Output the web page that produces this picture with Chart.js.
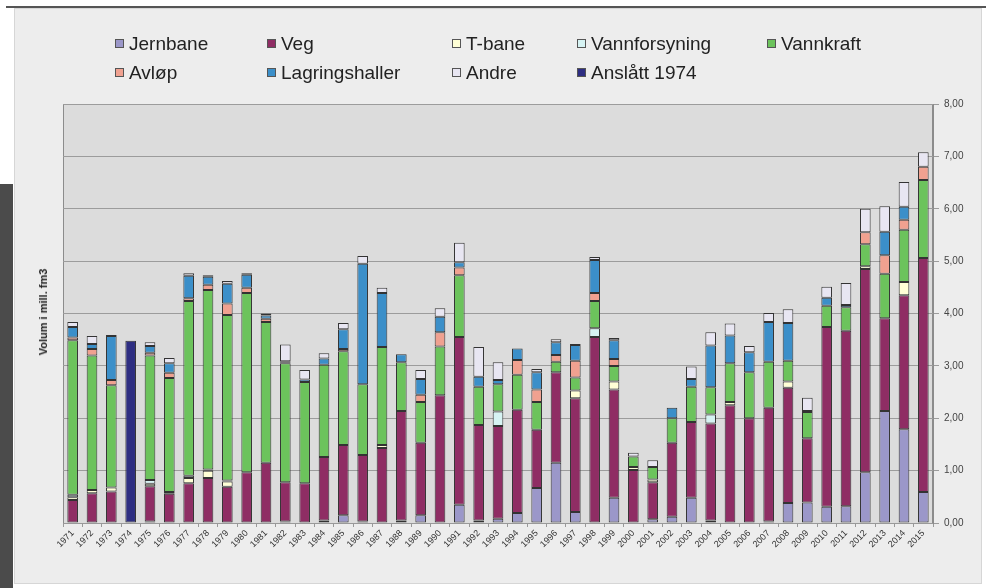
<!DOCTYPE html>
<html>
<head>
<meta charset="utf-8">
<script src="https://cdn.jsdelivr.net/npm/chart.js@4.4.1/dist/chart.umd.min.js"></script>
<style>
  body { margin: 0; width: 986px; height: 588px; background: #fff; position: relative; overflow: hidden; font-family: "Liberation Sans", Arial, sans-serif; }
  #topline { position: absolute; left: 6px; right: 0; top: 6px; height: 2px; background: #555; }
  #strip { position: absolute; left: 0; top: 184px; width: 13px; bottom: 0; background: #4b4b4b; }
  #panel { position: absolute; left: 14px; top: 8px; width: 966px; height: 574px; background: #ededed; border: 1px solid #d6d6d6; }
  #chart { position: absolute; left: 0; top: 0; }
  .item { position: absolute; font-size: 19px; color: #222; white-space: nowrap; line-height: 20px; }
  .item span.box { display: inline-block; width: 7px; height: 7px; border: 1px solid #555; margin-right: 5px; vertical-align: 2px; }
  #ytitle { position: absolute; left: 43px; top: 312px; transform: translate(-50%, -50%) rotate(-90deg); font-size: 11px; font-weight: bold; color: #222; white-space: nowrap; }
</style>
</head>
<body>
<div id="topline"></div>
<div id="strip"></div>
<div id="panel"></div>
<canvas id="chart" width="986" height="588"></canvas>
<div id="legend"></div>
<div id="ytitle">Volum i mill. fm3</div>
<script>
const years = [];
for (let y = 1971; y <= 2015; y++) years.push(String(y));

const seriesNames = ['Jernbane', 'Veg', 'T-bane', 'Vannforsyning', 'Vannkraft', 'Avløp', 'Lagringshaller', 'Andre', 'Anslått 1974'];
const seriesColors = ['#9b97c9', '#8f2d64', '#ffffd6', '#d6f3f3', '#6cc35c', '#f0a190', '#3b8fc9', '#e8e6f2', '#2e2e82'];

// 1971 ... 2015
const jernbane = [0, 0, 0, 0, 0.03, 0, 0, 0, 0, 0, 0, 0.03, 0, 0.05, 0.15, 0.03, 0, 0.05, 0.15, 0, 0.35, 0.05, 0.08, 0.19, 0.67, 1.15, 0.21, 0, 0.48, 0, 0.07, 0.12, 0.48, 0.05, 0, 0, 0.03, 0.38, 0.39, 0.31, 0.32, 0.97, 2.14, 1.79, 0.59];
const veg = [0.44, 0.57, 0.6, 0, 0.67, 0.56, 0.76, 0.86, 0.69, 0.97, 1.15, 0.75, 0.76, 1.21, 1.34, 1.27, 1.43, 2.09, 1.38, 2.44, 3.2, 1.82, 1.77, 1.97, 1.11, 1.73, 2.17, 3.55, 2.07, 1.01, 0.71, 1.41, 1.45, 1.85, 2.25, 2.0, 2.17, 2.2, 1.23, 3.43, 3.35, 3.88, 1.77, 2.56, 4.47];
const tbane = [0.05, 0.06, 0.08, 0, 0.05, 0.03, 0.1, 0.14, 0.1, 0, 0, 0, 0, 0, 0, 0, 0.06, 0, 0, 0, 0, 0, 0, 0, 0, 0, 0.15, 0, 0.15, 0.06, 0.05, 0, 0, 0, 0.06, 0, 0, 0.12, 0, 0, 0, 0.05, 0, 0.25, 0];
const vannforsyning = [0.05, 0, 0, 0, 0.07, 0, 0.04, 0.02, 0.02, 0, 0, 0, 0, 0, 0, 0, 0, 0, 0, 0, 0, 0, 0.28, 0, 0, 0, 0, 0.17, 0, 0, 0, 0, 0, 0.17, 0, 0, 0, 0, 0, 0, 0, 0, 0, 0, 0];
const vannkraft = [2.95, 2.57, 1.95, 0, 2.38, 2.18, 3.34, 3.43, 3.16, 3.42, 2.69, 2.27, 1.93, 1.76, 1.79, 1.35, 1.87, 0.93, 0.78, 0.93, 1.18, 0.73, 0.52, 0.67, 0.53, 0.2, 0.25, 0.52, 0.3, 0.2, 0.24, 0.47, 0.67, 0.52, 0.74, 0.88, 0.88, 0.4, 0.5, 0.41, 0.45, 0.42, 0.85, 1.0, 1.49];
const avlop = [0.05, 0.12, 0.1, 0, 0.05, 0.1, 0.05, 0.1, 0.22, 0.1, 0.06, 0.02, 0, 0, 0.04, 0, 0, 0, 0.14, 0.27, 0.15, 0, 0, 0.28, 0.24, 0.13, 0.32, 0.15, 0.13, 0, 0, 0, 0, 0, 0, 0, 0, 0, 0, 0, 0, 0.23, 0.35, 0.19, 0.25];
const lagringshaller = [0.2, 0.1, 0.84, 0, 0.13, 0.18, 0.43, 0.15, 0.38, 0.25, 0.06, 0.02, 0.05, 0.12, 0.38, 2.3, 1.03, 0.15, 0.3, 0.3, 0.1, 0.19, 0.08, 0.22, 0.33, 0.24, 0.3, 0.63, 0.36, 0, 0, 0.2, 0.15, 0.8, 0.53, 0.38, 0.76, 0.72, 0.02, 0.15, 0.04, 0, 0.45, 0.25, 0];
const andre = [0.1, 0.15, 0.02, 0, 0.07, 0.1, 0.05, 0.03, 0.05, 0.03, 0.04, 0.32, 0.18, 0.1, 0.12, 0.15, 0.1, 0, 0.17, 0.16, 0.37, 0.57, 0.34, 0, 0.06, 0.06, 0.02, 0.06, 0.04, 0.07, 0.13, 0, 0.24, 0.25, 0.23, 0.12, 0.17, 0.26, 0.25, 0.21, 0.42, 0.45, 0.49, 0.47, 0.28];
const anslatt = [0, 0, 0, 3.48, 0, 0, 0, 0, 0, 0, 0, 0, 0, 0, 0, 0, 0, 0, 0, 0, 0, 0, 0, 0, 0, 0, 0, 0, 0, 0, 0, 0, 0, 0, 0, 0, 0, 0, 0, 0, 0, 0, 0, 0, 0];

const yTicks = [0, 1, 2, 3, 4, 5, 6, 7, 8];

const seriesValues = [jernbane, veg, tbane, vannforsyning, vannkraft, avlop, lagringshaller, andre, anslatt];

const datasets = seriesNames.map((name, i) => ({
    label: name,
    data: seriesValues[i].map(v => (v === 0 ? null : v)),
    backgroundColor: seriesColors[i],
    borderColor: '#333',
    borderWidth: 1,
    borderSkipped: false,
    categoryPercentage: 1,
    barPercentage: 0.55
}));

// legend layout (two rows, fixed columns like the original)
const legendSlots = [[115, 34], [267, 34], [452, 34], [577, 34], [767, 34], [115, 63], [267, 63], [452, 63], [577, 63]];
const legendEl = document.getElementById('legend');
seriesNames.forEach((name, i) => {
    const div = document.createElement('div');
    div.className = 'item';
    div.style.left = legendSlots[i][0] + 'px';
    div.style.top = legendSlots[i][1] + 'px';
    div.innerHTML = '<span class="box" style="background:' + seriesColors[i] + '"></span>' + name;
    legendEl.appendChild(div);
});

const plotBackground = {
    id: 'plotBackground',
    beforeDraw(chart) {
        const { ctx, chartArea: a } = chart;
        ctx.save();
        ctx.fillStyle = '#dcdcdc';
        ctx.fillRect(a.left, a.top, a.right - a.left, a.bottom - a.top);
        ctx.strokeStyle = '#8c8c8c';
        ctx.lineWidth = 1;
        ctx.strokeRect(a.left + 0.5, a.top + 0.5, a.right - a.left - 1, a.bottom - a.top);
        ctx.restore();
    }
};

new Chart(document.getElementById('chart').getContext('2d'), {
    type: 'bar',
    data: { labels: years, datasets: datasets },
    options: {
        responsive: false,
        animation: false,
        layout: { padding: { left: 63, top: 104, right: 3, bottom: 25 } },
        plugins: { legend: { display: false }, tooltip: { enabled: false } },
        scales: {
            x: {
                stacked: true,
                grid: { display: true, drawOnChartArea: false, offset: true, tickLength: 4, color: '#999' },
                border: { color: '#999' },
                ticks: {
                    autoSkip: false, maxRotation: 45, minRotation: 45, padding: 1,
                    color: '#333', font: { family: 'Liberation Sans', size: 9 }
                },
                afterFit(scale) { scale.height = 40; }
            },
            y: {
                stacked: true,
                position: 'right',
                min: yTicks[0],
                max: yTicks[yTicks.length - 1],
                afterBuildTicks(scale) { scale.ticks = yTicks.map(v => ({ value: v })); },
                grid: { color: '#9c9c9c', lineWidth: 1, tickLength: 6 },
                border: { display: true, color: '#8c8c8c' },
                ticks: {
                    padding: 5, color: '#444', font: { family: 'Liberation Sans', size: 10 },
                    callback: v => v.toFixed(2).replace('.', ',')
                },
                afterFit(scale) { scale.width = 50; }
            }
        }
    },
    plugins: [plotBackground]
});
</script>
</body>
</html>
